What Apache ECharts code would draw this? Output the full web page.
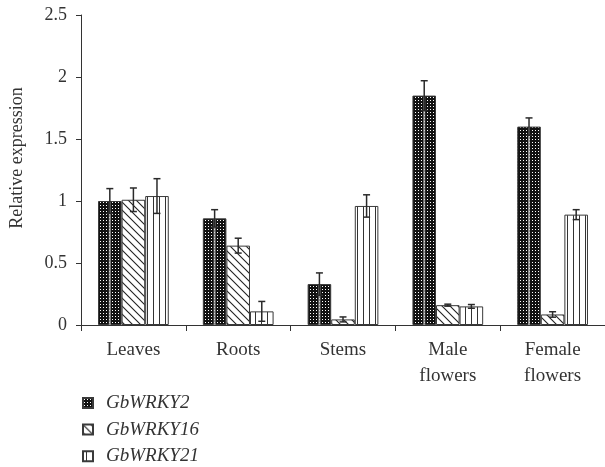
<!DOCTYPE html>
<html><head><meta charset="utf-8">
<script src="https://cdn.jsdelivr.net/npm/echarts@6/dist/echarts.min.js"></script>
<style>html,body{margin:0;padding:0;background:#fff}#c{width:605px;height:467px}</style>
</head><body><div id="c"></div>
<script>
const categories = ['Leaves', 'Roots', 'Stems', 'Male\nflowers', 'Female\nflowers'];
const seriesNames = ['GbWRKY2', 'GbWRKY16', 'GbWRKY21'];
const gbwrky2 = [1.00, 0.86, 0.33, 1.85, 1.60];
const gbwrky16 = [1.01, 0.64, 0.045, 0.16, 0.085];
const gbwrky21 = [1.04, 0.11, 0.96, 0.15, 0.89];
const err2 = [0.10, 0.07, 0.09, 0.12, 0.07];
const err16 = [0.095, 0.06, 0.02, 0.008, 0.022];
const err21 = [0.14, 0.08, 0.09, 0.015, 0.04];
const yTicks = [0, 0.5, 1, 1.5, 2, 2.5];

function makePattern(kind) {
  const c = document.createElement('canvas');
  const ctx = c.getContext('2d');
  if (kind === 'dots') {
    c.width = 3; c.height = 3;
    ctx.fillStyle = '#111'; ctx.fillRect(0, 0, 3, 3);
    ctx.fillStyle = '#fff'; ctx.fillRect(1, 1, 1, 1);
  } else if (kind === 'diag') {
    c.width = 8; c.height = 8;
    ctx.fillStyle = '#fff'; ctx.fillRect(0, 0, 8, 8);
    ctx.strokeStyle = '#222'; ctx.lineWidth = 1.1;
    ctx.beginPath();
    ctx.moveTo(-1, -1); ctx.lineTo(9, 9);
    ctx.moveTo(-1, 7); ctx.lineTo(1, 9);
    ctx.moveTo(7, -1); ctx.lineTo(9, 1);
    ctx.stroke();
  } else {
    c.width = 6; c.height = 4;
    ctx.fillStyle = '#fff'; ctx.fillRect(0, 0, 6, 4);
    ctx.fillStyle = '#333'; ctx.fillRect(3, 0, 1, 4);
  }
  return { image: c, repeat: 'repeat' };
}
const patterns = [makePattern('dots'), makePattern('diag'), makePattern('vert')];
const values = [gbwrky2, gbwrky16, gbwrky21];
const errs = [err2, err16, err21];
const CAT_GAP = 0.325;

const series = seriesNames.map((n, i) => ({
  name: n, type: 'bar', data: values[i],
  barGap: '0%', barCategoryGap: (CAT_GAP * 100) + '%',
  itemStyle: { color: patterns[i], borderColor: '#3a3a3a', borderWidth: 1 },
  emphasis: { disabled: true }
}));

const errData = [];
values.forEach((vals, s) => vals.forEach((v, k) => errData.push([k, v, errs[s][k], s])));
series.push({
  type: 'custom', name: 'err', silent: true, z: 10,
  data: errData,
  renderItem: function (params, api) {
    const k = api.value(0), v = api.value(1), e = api.value(2), s = api.value(3);
    const band = api.size([1, 0])[0];
    const bw = band * (1 - CAT_GAP) / 3;
    const cx = api.coord([k, v])[0] + (s - 1) * bw;
    const yTop = api.coord([k, v + e])[1];
    const yBot = api.coord([k, v - e])[1];
    const y0 = api.coord([k, 0])[1];
    const yv = api.coord([k, v])[1];
    const cap = 3.5;
    const st = { stroke: '#2a2a2a', lineWidth: 1.5 };
    const children = [
      { type: 'line', shape: { x1: cx, y1: yTop, x2: cx, y2: yBot }, style: st },
      { type: 'line', shape: { x1: cx - cap, y1: yTop, x2: cx + cap, y2: yTop }, style: st },
      { type: 'line', shape: { x1: cx - cap, y1: yBot, x2: cx + cap, y2: yBot }, style: st }
    ];
    if (s === 0) {
      children.unshift({ type: 'rect', shape: { x: cx - 1, y: yv + 1, width: 2, height: y0 - yv - 1 }, style: { fill: 'rgba(200,200,200,0.7)' } });
    }
    return { type: 'group', children: children };
  }
});

const chart = echarts.init(document.getElementById('c'), null, { renderer: 'canvas' });
chart.setOption({
  animation: false,
  textStyle: { fontFamily: 'Liberation Serif' },
  grid: { left: 81, right: 0, top: 15, bottom: 142, containLabel: false },
  legend: {
    orient: 'vertical', left: 82, top: 393, padding: 0,
    data: seriesNames, icon: 'rect', itemWidth: 10, itemHeight: 10, itemGap: 6.6,
    textStyle: { fontFamily: 'Liberation Serif', fontStyle: 'italic', fontSize: 19, color: '#333', lineHeight: 20, padding: [0, 0, 0, 8] }
  },
  xAxis: {
    type: 'category', data: categories,
    axisLine: { lineStyle: { color: '#333', width: 1 } },
    axisTick: { show: true, length: 6, lineStyle: { color: '#333' } },
    axisLabel: { fontSize: 19, color: '#333', lineHeight: 26, margin: 12, fontFamily: 'Liberation Serif' }
  },
  yAxis: {
    type: 'value', min: yTicks[0], max: yTicks[yTicks.length - 1], interval: 0.5,
    name: 'Relative expression', nameLocation: 'middle', nameGap: 55, nameRotate: 90,
    nameTextStyle: { fontSize: 18, color: '#333', fontFamily: 'Liberation Serif', padding: [0, 0, 0, 24] },
    axisLine: { show: true, lineStyle: { color: '#333', width: 1 } },
    axisTick: { show: true, length: 5, lineStyle: { color: '#333' } },
    splitLine: { show: false },
    axisLabel: { fontSize: 18, color: '#333', margin: 14, fontFamily: 'Liberation Serif' }
  },
  series: series
});
</script></body></html>
